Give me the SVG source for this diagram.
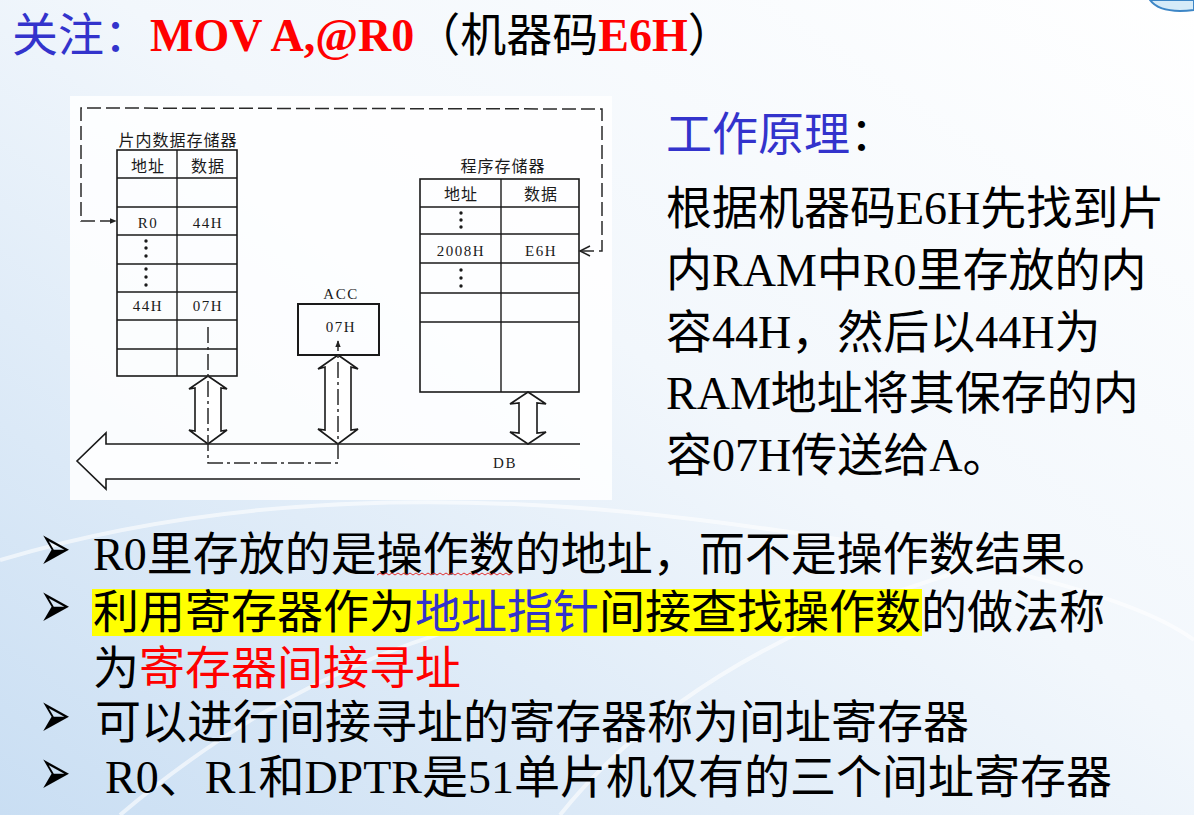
<svg xmlns="http://www.w3.org/2000/svg" width="1194" height="815" viewBox="0 0 1194 815">
<defs>
<linearGradient id="bg" x1="1" y1="0" x2="0" y2="1">
<stop offset="0" stop-color="#ffffff"/>
<stop offset="0.45" stop-color="#f2f7fc"/>
<stop offset="1" stop-color="#c9def3"/>
</linearGradient>
<marker id="ah" viewBox="0 0 10 10" refX="9" refY="5" markerWidth="7" markerHeight="7" orient="auto" markerUnits="userSpaceOnUse">
<path d="M0,1 L10,5 L0,9 Z" fill="#222"/>
</marker>
<style>
.cn{font-family:"Noto Sans CJK SC","Noto Sans",sans-serif;}
.lat{font-family:"Liberation Serif","Noto Sans CJK SC",serif;}
.tb{fill:none;stroke:#1a1a1a;stroke-width:1.6;}
.tl{stroke:#1a1a1a;stroke-width:1.4;}
.sm{font-family:"Liberation Serif",serif;font-size:15px;letter-spacing:1.5px;fill:#1a1a1a;text-anchor:middle;}
.smc{font-family:"Noto Sans CJK SC",sans-serif;font-size:16px;letter-spacing:1px;fill:#1a1a1a;text-anchor:middle;}
.dot{fill:#1a1a1a;}
.dbl{fill:#fff;stroke:#1a1a1a;stroke-width:1.6;stroke-linejoin:miter;}
.dash{fill:none;stroke:#2a2a2a;stroke-width:1.5;stroke-dasharray:14 5;}
.dashdot{fill:none;stroke:#2a2a2a;stroke-width:1.5;stroke-dasharray:16 4 3 4;}
.big{font-size:46px;fill:#000;}
.bul{font-family:"DejaVu Sans",sans-serif;font-size:38px;fill:#000;}
</style>
</defs>
<rect width="1194" height="815" fill="url(#bg)"/>
<g fill="none" stroke="#ffffff" stroke-width="4" opacity="0.6">
<path d="M0,560 Q300,470 700,520 T1194,640"/>
<path d="M120,815 Q420,560 800,600"/>
<path d="M560,815 Q700,640 1000,560"/>
</g>
<path d="M1150,0 Q1160,14 1194,10 L1194,0 Z" fill="#d6ebf8" stroke="#3d86c6" stroke-width="2"/>

<!-- title -->
<g id="title">
<text x="12" y="51" font-size="46"><tspan class="cn" fill="#3333CC">关注：</tspan><tspan class="lat" font-weight="bold" fill="#FF0000">MOV A,@R0</tspan><tspan class="cn" fill="#000">（机器码</tspan><tspan class="lat" font-weight="bold" fill="#FF0000">E6H</tspan><tspan class="cn" fill="#000">）</tspan></text>
</g>

<!-- scanned figure background -->
<rect x="70" y="96" width="542" height="404" fill="#ffffff" opacity="0.85"/>

<!-- internal data memory -->
<g id="ram">
<text class="smc" x="178" y="146">片内数据存储器</text>
<rect class="tb" x="117" y="150" width="120" height="226"/>
<line class="tl" x1="177" y1="150" x2="177" y2="376"/>
<line class="tl" x1="117" y1="178" x2="237" y2="178"/>
<line class="tl" x1="117" y1="207" x2="237" y2="207"/>
<line class="tl" x1="117" y1="235" x2="237" y2="235"/>
<line class="tl" x1="117" y1="264" x2="237" y2="264"/>
<line class="tl" x1="117" y1="292" x2="237" y2="292"/>
<line class="tl" x1="117" y1="320" x2="237" y2="320"/>
<line class="tl" x1="117" y1="349" x2="237" y2="349"/>
<text class="smc" x="148" y="172">地址</text>
<text class="smc" x="208" y="172">数据</text>
<text class="sm" x="148" y="228">R0</text>
<text class="sm" x="208" y="228">44H</text>
<circle class="dot" cx="146" cy="241" r="1.7"/>
<circle class="dot" cx="146" cy="248" r="1.7"/>
<circle class="dot" cx="146" cy="256" r="1.7"/>
<circle class="dot" cx="146" cy="269" r="1.7"/>
<circle class="dot" cx="146" cy="277" r="1.7"/>
<circle class="dot" cx="146" cy="285" r="1.7"/>
<text class="sm" x="148" y="311">44H</text>
<text class="sm" x="208" y="311">07H</text>
</g>

<!-- program memory -->
<g id="rom">
<text class="smc" x="503" y="172">程序存储器</text>
<rect class="tb" x="420" y="179" width="159" height="213"/>
<line class="tl" x1="501" y1="179" x2="501" y2="392"/>
<line class="tl" x1="420" y1="207" x2="579" y2="207"/>
<line class="tl" x1="420" y1="234" x2="579" y2="234"/>
<line class="tl" x1="420" y1="263" x2="579" y2="263"/>
<line class="tl" x1="420" y1="293" x2="579" y2="293"/>
<line class="tl" x1="420" y1="322" x2="579" y2="322"/>
<text class="smc" x="461" y="200">地址</text>
<text class="smc" x="541" y="200">数据</text>
<circle class="dot" cx="461" cy="213" r="1.7"/>
<circle class="dot" cx="461" cy="220" r="1.7"/>
<circle class="dot" cx="461" cy="227" r="1.7"/>
<text class="sm" x="461" y="256">2008H</text>
<text class="sm" x="541" y="256">E6H</text>
<circle class="dot" cx="461" cy="270" r="1.7"/>
<circle class="dot" cx="461" cy="278" r="1.7"/>
<circle class="dot" cx="461" cy="286" r="1.7"/>
</g>

<!-- accumulator -->
<g id="acc">
<text class="sm" x="341" y="299" letter-spacing="1">ACC</text>
<rect x="298" y="304" width="81" height="51" fill="none" stroke="#1a1a1a" stroke-width="2"/>
<text class="sm" x="341" y="332">07H</text>
</g>

<!-- data bus -->
<g id="bus">
<path d="M580,444 L106,444 L106,433 L77,461 L106,489 L106,479 L580,479" fill="#ffffff" fill-opacity="0.5" stroke="#1a1a1a" stroke-width="1.6"/>
<text class="sm" x="505" y="468">DB</text>
</g>

<g id="connectors">
<!-- double arrows -->
<path class="dbl" d="M208,376 L227,389 L221,388 L221,431 L227,430 L208,444 L189,430 L195,431 L195,388 L189,389 Z"/>
<path class="dbl" d="M338,355 L358,369 L351,367 L351,430 L358,429 L338,444 L318,429 L325,430 L325,367 L318,369 Z"/>
<path class="dbl" d="M528,392 L546,404 L537,403 L537,433 L546,432 L528,444 L510,432 L519,433 L519,403 L510,404 Z"/>
<!-- dashed control path -->
<path class="dash" d="M580,251 L602,251 L602,109 L81,108 L81,221 L116,221" marker-end="url(#ah)"/>
<path d="M590,246 L580,251 L590,256" fill="none" stroke="#222" stroke-width="1.5"/>
<!-- dash-dot data path -->
<path class="dashdot" d="M208,327 L208,463 L338,463 L338,341" marker-end="url(#ah)"/>
</g>

<!-- principle text -->
<g id="principle">
<text x="666" y="150" font-size="46"><tspan class="cn" fill="#3333CC">工作原理</tspan><tspan class="cn" fill="#000">：</tspan></text>
<text class="big" x="666" y="224"><tspan class="cn">根据机器码</tspan><tspan class="lat">E6H</tspan><tspan class="cn">先找到片</tspan></text>
<text class="big" x="666" y="286"><tspan class="cn">内</tspan><tspan class="lat">RAM</tspan><tspan class="cn">中</tspan><tspan class="lat">R0</tspan><tspan class="cn">里存放的内</tspan></text>
<text class="big" x="666" y="348"><tspan class="cn">容</tspan><tspan class="lat">44H</tspan><tspan class="cn">，然后以</tspan><tspan class="lat">44H</tspan><tspan class="cn">为</tspan></text>
<text class="big" x="666" y="409"><tspan class="lat">RAM</tspan><tspan class="cn">地址将其保存的内</tspan></text>
<text class="big" x="666" y="471"><tspan class="cn">容</tspan><tspan class="lat">07H</tspan><tspan class="cn">传送给</tspan><tspan class="lat">A</tspan><tspan class="cn">。</tspan></text>
</g>

<!-- bullets -->
<g id="bullets">
<rect x="92" y="589" width="830" height="47" fill="#FFFF00"/>
<text class="bul" transform="translate(39,570) scale(1,1.7)">➢</text>
<text class="big" x="93" y="570"><tspan class="lat">R0</tspan><tspan class="cn">里存放的是操作数的地址，而不是操作数结果。</tspan></text>
<path d="M377,575 l3,-2 l3,2 l3,-2 l3,2 l3,-2 l3,2 l3,-2 l3,2 l3,-2 l3,2 l3,-2 l3,2 l3,-2 l3,2 l3,-2 l3,2 l3,-2 l3,2 l3,-2 l3,2 l3,-2 l3,2 l3,-2 l3,2 l3,-2 l3,2 l3,-2 l3,2 l3,-2 l3,2 l3,-2 l3,2 l3,-2 l3,2 l3,-2 l3,2 l3,-2 l3,2 l3,-2 l3,2 l3,-2 l3,2 l3,-2 l3,2 l3,-2" fill="none" stroke="#e03030" stroke-width="1"/>
<text class="bul" transform="translate(39,627) scale(1,1.7)">➢</text>
<text class="big cn" x="93" y="628"><tspan>利用寄存器作为</tspan><tspan fill="#3333CC">地址指针</tspan><tspan>间接查找操作数的做法称</tspan></text>
<text class="big cn" x="93" y="684"><tspan>为</tspan><tspan fill="#FF0000">寄存器间接寻址</tspan></text>
<text class="bul" transform="translate(39,737) scale(1,1.7)">➢</text>
<text class="big cn" x="95" y="738">可以进行间接寻址的寄存器称为间址寄存器</text>
<text class="bul" transform="translate(39,794) scale(1,1.7)">➢</text>
<text class="big" x="105" y="793"><tspan class="lat">R0</tspan><tspan class="cn">、</tspan><tspan class="lat">R1</tspan><tspan class="cn">和</tspan><tspan class="lat">DPTR</tspan><tspan class="cn">是</tspan><tspan class="lat">51</tspan><tspan class="cn">单片机仅有的三个间址寄存器</tspan></text>
</g>
</svg>
